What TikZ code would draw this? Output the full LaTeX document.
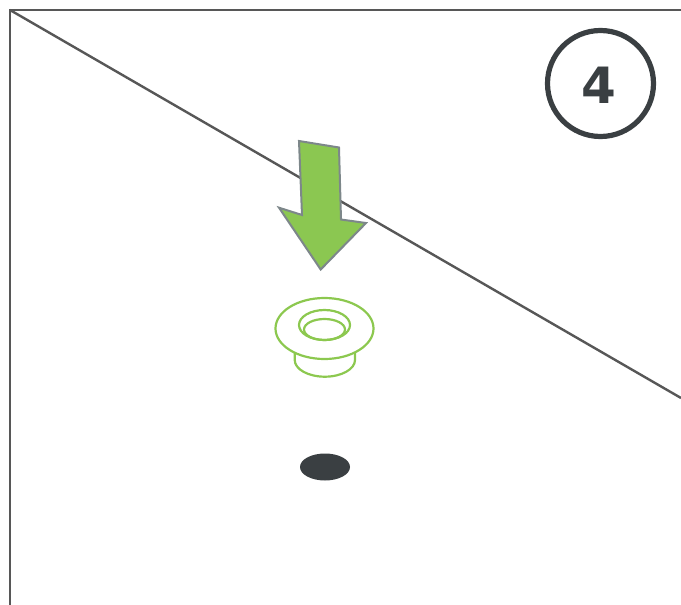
\documentclass[tikz,border=0pt]{standalone}
\usepackage{fontspec}
\setmainfont{DejaVu Sans}
\definecolor{leaf}{HTML}{8BC751}
\definecolor{ring}{HTML}{8CC84F}
\definecolor{slate}{HTML}{3A3F42}
\definecolor{edge}{HTML}{7D878A}
\begin{document}
\begin{tikzpicture}[
  x=1pt, y=-1pt,
  frameline/.style={draw=black!66, line width=2pt},
  roofline/.style ={draw=black!66, line width=2.4pt},
  pusharrow/.style={draw=edge, fill=leaf, line width=2pt, line join=miter},
  washer/.style   ={draw=ring, line width=2.2pt},
  badge/.style    ={circle, draw=slate, line width=5.2pt, minimum size=106pt, inner sep=0pt},
  badgenum/.style ={text=slate, inner sep=0pt, font=\fontsize{50}{50}\selectfont\bfseries},
]
\useasboundingbox (0,0) rectangle (681,605);

\draw[frameline] (681,9.5) -- (9.5,9.5) -- (9.5,605);
\draw[roofline] (10,10) -- (681,398);

\node[badge] (stepnum) at (600.5,83.5) {};
\node[badgenum] (num) at ([xshift=-2pt,yshift=-1.5pt]stepnum.center) {4};

% arrow
\draw[pusharrow] (299,141) -- (339,147.5) -- (341,219.5) -- (366,223) -- (320.7,269.5)
  -- (279,207.7) -- (302,215) -- cycle;

% washer
\draw[washer] (294.7,353) -- (294.7,360) arc[x radius=30.15, y radius=16.7, start angle=180, end angle=0] -- (355,353);
\draw[washer, fill=white] (324.5,328.5) ellipse[x radius=49, y radius=30.5];
\draw[washer] (324.5,325) ellipse[x radius=25.5, y radius=15];
\draw[washer] (324.5,329.5) ellipse[x radius=20.5, y radius=10.5];

% hole
\fill[slate] (325,467) ellipse[x radius=25, y radius=13.5];

\end{tikzpicture}
\end{document}
